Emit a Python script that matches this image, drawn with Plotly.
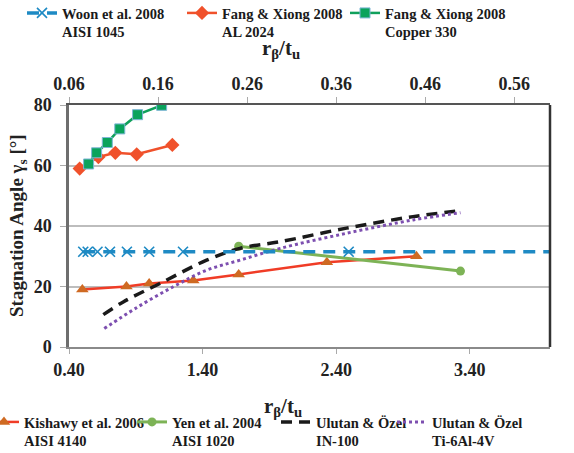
import plotly.graph_objects as go

# ---- data -------------------------------------------------------------
# top axis series (r_beta / t_u, upper scale)
woon_x = [0.076, 0.081, 0.092, 0.106, 0.125, 0.150, 0.188, 0.374, 0.62]
woon_y = [31.5, 31.5, 31.5, 31.5, 31.5, 31.5, 31.5, 31.5, 31.5]

fang_al_x = [0.072, 0.093, 0.112, 0.136, 0.176]
fang_al_y = [59.0, 62.8, 64.2, 63.7, 66.8]

fang_cu_x = [0.082, 0.091, 0.103, 0.117, 0.137, 0.164]
fang_cu_y = [60.5, 64.2, 67.6, 72.1, 76.8, 79.9]

# bottom axis series (r_beta / t_u, lower scale)
kishawy_x = [0.50, 0.83, 1.00, 1.33, 1.67, 2.33, 3.00]
kishawy_y = [19.0, 20.0, 21.0, 22.0, 24.0, 28.0, 30.0]

yen_x = [1.67, 3.33]
yen_y = [33.3, 25.1]

in100_x = [0.657, 0.806, 1.08, 1.43, 1.68, 1.98, 2.477, 2.975, 3.337]
in100_y = [10.7, 14.9, 21.0, 28.7, 32.6, 34.8, 39.3, 43.1, 45.1]

ti_x = [0.664, 0.906, 1.18, 1.43, 1.68, 1.98, 2.477, 2.975, 3.33]
ti_y = [6.1, 13.0, 19.9, 25.4, 28.7, 32.6, 37.6, 42.0, 44.4]

bottom_ticks = [0.40, 1.40, 2.40, 3.40]
top_ticks = [0.06, 0.16, 0.26, 0.36, 0.46, 0.56]
y_ticks = [0, 20, 40, 60, 80]

# ---- styling ----------------------------------------------------------
SERIF = "Liberation Serif, Times New Roman, serif"
W, H = 574, 453
L, R, T, B = 69, 24, 105, 106
PW, PH = W - L - R, H - T - B


def px_to_paper(px, py):
    return (px - L) / PW, (H - B - py) / PH


fig = go.Figure()

fig.add_trace(go.Scatter(
    x=woon_x, y=woon_y, xaxis="x2", name="Woon et al. 2008<br>AISI 1045",
    mode="lines+markers", legend="legend",
    line=dict(color="#1E8AC4", width=3.5, dash="12px,8px"),
    marker=dict(symbol="x-thin", size=10, line=dict(color="#1E8AC4", width=1.6)),
))
fig.add_trace(go.Scatter(
    x=fang_al_x, y=fang_al_y, xaxis="x2", name="Fang & Xiong 2008<br>AL 2024",
    mode="lines+markers", legend="legend2",
    line=dict(color="#F0512B", width=2.5),
    marker=dict(symbol="diamond", size=11, color="#F0512B"),
))
fig.add_trace(go.Scatter(
    x=fang_cu_x, y=fang_cu_y, xaxis="x2", name="Fang & Xiong 2008<br>Copper 330",
    mode="lines+markers", legend="legend3",
    line=dict(color="#10A05C", width=2.5),
    marker=dict(symbol="square", size=10, color="#0AA35C",
                line=dict(color="#7EB6D6", width=1)),
))
fig.add_trace(go.Scatter(
    x=kishawy_x, y=kishawy_y, name="Kishawy et al. 2006<br>AISI 4140",
    mode="lines+markers", legend="legend4",
    line=dict(color="#F03C26", width=2.5),
    marker=dict(symbol="triangle-up", size=11, color="#CF6A22"),
))
fig.add_trace(go.Scatter(
    x=yen_x, y=yen_y, name="Yen et al. 2004<br>AISI 1020",
    mode="lines+markers", legend="legend5",
    line=dict(color="#7DB356", width=3),
    marker=dict(symbol="circle", size=9, color="#7DB356"),
))
fig.add_trace(go.Scatter(
    x=in100_x, y=in100_y, name="Ulutan & Özel<br>IN-100",
    mode="lines", legend="legend6", line_shape="spline",
    line=dict(color="#1A1A1A", width=3.5, dash="11px,7px"),
))
fig.add_trace(go.Scatter(
    x=ti_x, y=ti_y, name="Ulutan & Özel<br>Ti-6Al-4V",
    mode="lines", legend="legend7", line_shape="spline",
    line=dict(color="#7D4FB0", width=3, dash="dot"),
))

# one legend box per entry, placed by the left edge of its label text
legend_spots = {
    "legend": (62, -3),
    "legend2": (222, -3),
    "legend3": (385, -3),
    "legend4": (24, 406),
    "legend5": (172, 406),
    "legend6": (316, 406),
    "legend7": (432, 406),
}
legend_font = dict(family=SERIF, size=14.5, color="#1A1A1A", weight="bold")
for key, (tx, ty) in legend_spots.items():
    lx, ly = px_to_paper(tx - 40, ty)
    fig.layout[key] = dict(
        x=lx, y=ly, xanchor="left", yanchor="top", valign="top",
        bgcolor="rgba(0,0,0,0)", borderwidth=0,
        font=legend_font, itemwidth=30,
    )

tick_font = dict(family=SERIF, size=18, color="#222222", weight="bold")

fig.update_layout(
    width=W, height=H,
    margin=dict(l=L, r=R, t=T, b=B, pad=0, autoexpand=False),
    paper_bgcolor="white", plot_bgcolor="white",
    showlegend=True,
    xaxis=dict(
        range=[0.40, 4.00], tickvals=bottom_ticks, tickformat=".2f",
        tickfont=tick_font, showgrid=False, zeroline=False,
        showline=True, linecolor="#8A8A8A", linewidth=2,
        ticks="outside", ticklen=5, tickcolor="#AAAAAA", tickwidth=1,
    ),
    xaxis2=dict(
        range=[0.06, 0.60], tickvals=top_ticks, tickformat=".2f",
        overlaying="x", side="top", anchor="y",
        tickfont=tick_font, showgrid=False, zeroline=False,
        showline=True, linecolor="#555555", linewidth=2,
        ticks="outside", ticklen=6, tickcolor="#AAAAAA", tickwidth=1,
    ),
    yaxis=dict(
        range=[0, 80], tickvals=y_ticks, tickfont=tick_font,
        showgrid=True, gridcolor="#BDBDBD", gridwidth=1.5, zeroline=False,
        showline=True, linecolor="#6E6E6E", linewidth=2.5,
        ticks="outside", ticklen=6, tickcolor="#AAAAAA", tickwidth=1,
        ticklabelstandoff=5,
    ),
    annotations=[
        dict(text="Stagnation Angle γ<sub>s</sub> [°]", textangle=-90,
             xref="paper", yref="paper", x=px_to_paper(18, 0)[0],
             y=px_to_paper(0, 226)[1], xanchor="center", yanchor="middle",
             showarrow=False,
             font=dict(family=SERIF, size=19, color="#222222", weight="bold")),
        dict(text="r<sub>β</sub>/t<sub>u</sub>",
             xref="paper", yref="paper", x=px_to_paper(281, 0)[0],
             y=px_to_paper(0, 49)[1], xanchor="center", yanchor="middle",
             showarrow=False,
             font=dict(family=SERIF, size=21, color="#222222", weight="bold")),
        dict(text="r<sub>β</sub>/t<sub>u</sub>",
             xref="paper", yref="paper", x=px_to_paper(283, 0)[0],
             y=px_to_paper(0, 407)[1], xanchor="center", yanchor="middle",
             showarrow=False,
             font=dict(family=SERIF, size=21, color="#222222", weight="bold")),
    ],
)

# darker right-hand frame edge
fig.add_shape(type="line", xref="paper", yref="paper", x0=1, x1=1, y0=0, y1=1,
              line=dict(color="#333333", width=2.5))

fig.write_html("out.html")
